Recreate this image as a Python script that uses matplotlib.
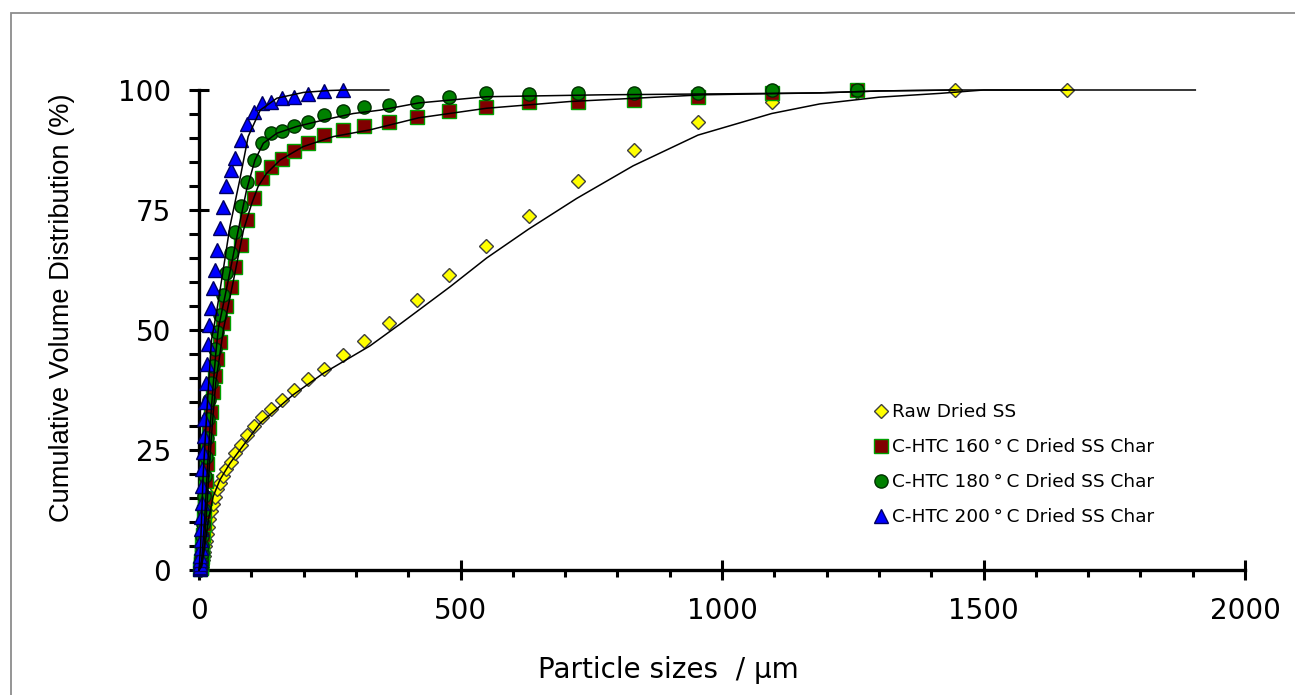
import matplotlib
matplotlib.use("Agg")
import matplotlib.pyplot as plt
from matplotlib.ticker import MultipleLocator

# ---------------------------------------------------------------- data
# measured points (particle size in um, cumulative volume in %)
raw_x = [3.80, 4.37, 5.01, 5.75, 6.61, 7.59, 8.71, 10.0, 11.5, 13.2, 15.1, 17.4,
         20.0, 22.9, 26.3, 30.2, 34.7, 39.8, 45.7, 52.5, 60.3, 69.2, 79.4, 91.2,
         104.7, 120.2, 138.0, 158.5, 182.0, 208.9, 239.9, 275.4, 316.2, 363.1,
         416.9, 478.6, 549.5, 631.0, 724.4, 831.8, 955.0, 1096.5, 1258.9,
         1445.4, 1659.6]
raw_y = [0.1, 0.3, 0.6, 1.0, 1.5, 2.1, 2.9, 3.8, 4.9, 6.1, 7.5, 9.0,
         10.6, 12.2, 13.8, 15.3, 16.8, 18.2, 19.6, 21.0, 22.6, 24.3, 26.0, 28.1,
         30.0, 31.8, 33.5, 35.4, 37.5, 39.7, 41.9, 44.8, 47.8, 51.4,
         56.3, 61.5, 67.6, 73.8, 81.0, 87.6, 93.3, 97.4, 99.6,
         100.0, 100.0]

c160_x = [2.51, 2.88, 3.31, 3.80, 4.37, 5.01, 5.75, 6.61, 7.59, 8.71, 10.0, 11.5,
          13.2, 15.1, 17.4, 20.0, 22.9, 26.3, 30.2, 34.7, 39.8, 45.7, 52.5, 60.3,
          69.2, 79.4, 91.2, 104.7, 120.2, 138.0, 158.5, 182.0, 208.9, 239.9,
          275.4, 316.2, 363.1, 416.9, 478.6, 549.5, 631.0, 724.4, 831.8, 955.0,
          1096.5, 1258.9]
c160_y = [0.2, 0.4, 0.7, 1.2, 1.9, 2.8, 4.0, 5.5, 7.2, 9.5, 12.0, 15.0,
          18.5, 22.0, 25.5, 29.5, 33.0, 37.0, 40.5, 44.0, 47.5, 51.4, 54.9, 59.0,
          63.2, 67.8, 72.9, 77.6, 81.6, 83.9, 85.6, 87.2, 89.0, 90.6,
          91.7, 92.4, 93.4, 94.4, 95.7, 96.5, 97.4, 97.6, 98.0, 98.5,
          99.3, 100.0]

c180_x = [2.51, 2.88, 3.31, 3.80, 4.37, 5.01, 5.75, 6.61, 7.59, 8.71, 10.0, 11.5,
          13.2, 15.1, 17.4, 20.0, 22.9, 26.3, 30.2, 34.7, 39.8, 45.7, 52.5, 60.3,
          69.2, 79.4, 91.2, 104.7, 120.2, 138.0, 158.5, 182.0, 208.9, 239.9,
          275.4, 316.2, 363.1, 416.9, 478.6, 549.5, 631.0, 724.4, 831.8, 955.0,
          1096.5, 1258.9]
c180_y = [0.2, 0.4, 0.8, 1.4, 2.3, 3.5, 5.0, 7.0, 9.5, 12.5, 15.5, 19.5,
          23.5, 27.5, 31.5, 35.5, 39.0, 42.5, 46.0, 49.5, 53.1, 57.3, 61.8, 66.0,
          70.5, 75.8, 80.9, 85.4, 89.0, 91.0, 91.5, 92.4, 93.4, 94.8,
          95.7, 96.5, 96.9, 97.6, 98.6, 99.3, 99.2, 99.3, 99.4, 99.4,
          99.9, 100.0]

c200_x = [1.26, 1.45, 1.66, 1.91, 2.19, 2.51, 2.88, 3.31, 3.80, 4.37, 5.01, 5.75,
          6.61, 7.59, 8.71, 10.0, 11.5, 13.2, 15.1, 17.4, 20.0, 22.9, 26.3, 30.2,
          34.7, 39.8, 45.7, 52.5, 60.3, 69.2, 79.4, 91.2, 104.7, 120.2, 138.0,
          158.5, 182.0, 208.9, 239.9, 275.4]
c200_y = [0.2, 0.4, 0.7, 1.2, 2.0, 3.0, 4.5, 6.3, 8.5, 11.0, 14.0, 17.5,
          21.0, 24.5, 28.0, 31.5, 35.0, 39.0, 43.0, 47.0, 51.0, 54.5, 58.7, 62.5,
          66.7, 71.2, 75.7, 79.9, 83.3, 85.8, 89.6, 93.0, 95.5, 97.2, 97.6,
          98.3, 98.6, 99.2, 99.7, 100.0]

# fitted model curves
raw_fit_x = [0, 5, 11, 18, 27, 40, 59, 85, 117, 180, 238, 327, 384, 480, 550,
             630, 722, 830, 954, 1095, 1187, 1300, 1417, 1500, 1905]
raw_fit_y = [0, 0.7, 4.9, 10.4, 15.3, 18.8, 22.2, 26.0, 30.6, 36.5, 41.0, 46.7,
             51.2, 59.0, 65.0, 71.0, 77.4, 84.2, 90.6, 95.1, 97.1, 98.5, 99.3,
             100, 100]
c160_fit_x = [0, 5, 10, 15, 20, 26, 32, 40, 47, 66, 85, 101, 113, 129, 155, 199,
              257, 327, 420, 550, 709, 964, 1187, 1300, 1445, 1659]
c160_fit_y = [0, 1, 5, 13, 22, 31, 39, 45, 50.3, 60.4, 70.8, 76.4, 79.9, 82.6,
              85.4, 88.2, 90.3, 91.7, 94.2, 96.2, 97.6, 99.0, 99.4, 99.8, 100, 100]
c180_fit_x = [0, 5, 10, 15, 20, 26, 32, 37, 56, 75, 91, 107, 123, 149, 187, 238,
              295, 346, 420, 550, 773, 1000, 1187, 1300, 1445]
c180_fit_y = [0, 2, 9, 19, 28, 37, 45, 50.3, 60.4, 70.8, 79.2, 85.4, 88.9, 91.0,
              92.4, 93.75, 95.1, 95.8, 97.3, 98.6, 99.0, 99.2, 99.4, 99.8, 100]
c200_fit_x = [0, 3, 8, 15, 24, 34, 47, 59, 78, 94, 117, 149, 200, 250, 280, 363]
c200_fit_y = [0, 5, 20, 33, 48, 54, 63, 71.5, 81.3, 90.3, 95.8, 98.3, 99.5, 99.9,
              100, 100]

labels = ["Raw Dried SS",
          "C-HTC 160\u2009\u00b0\u2009C Dried SS Char",
          "C-HTC 180\u2009\u00b0\u2009C Dried SS Char",
          "C-HTC 200\u2009\u00b0\u2009C Dried SS Char"]

# ---------------------------------------------------------------- figure
fig = plt.figure(figsize=(12.95, 6.95), dpi=100)
ax = fig.add_axes([199 / 1295, 125 / 695, 1046 / 1295, 480 / 695])

styles = [
    dict(marker="D", ms=7.5, mfc="#ffff00", mec="#404040", mew=1.0),
    dict(marker="s", ms=9.5, mfc="#800000", mec="#00a000", mew=1.0),
    dict(marker="o", ms=9.5, mfc="#008000", mec="#003000", mew=1.0),
    dict(marker="^", ms=9.5, mfc="#0000ff", mec="#000060", mew=1.0),
]
points = [(raw_x, raw_y), (c160_x, c160_y), (c180_x, c180_y), (c200_x, c200_y)]
fits = [(raw_fit_x, raw_fit_y), (c160_fit_x, c160_fit_y),
        (c180_fit_x, c180_fit_y), (c200_fit_x, c200_fit_y)]

handles = []
for (px, py), st, lab in zip(points, styles, labels):
    h, = ax.plot(px, py, linestyle="none", label=lab, clip_on=False,
                 zorder=3, **st)
    handles.append(h)
for fx, fy in fits:
    ax.plot(fx, fy, color="black", lw=1.1, zorder=4, clip_on=False)

ax.set_xlim(0, 2000)
ax.set_ylim(0, 100)
ax.xaxis.set_major_locator(MultipleLocator(500))
ax.xaxis.set_minor_locator(MultipleLocator(100))
ax.yaxis.set_major_locator(MultipleLocator(25))
ax.yaxis.set_minor_locator(MultipleLocator(5))

for s in ["top", "right"]:
    ax.spines[s].set_visible(False)
for s in ["left", "bottom"]:
    ax.spines[s].set_linewidth(2.4)

ax.tick_params(axis="x", which="major", direction="inout", length=14.5,
               width=2.2, pad=12, labelsize=20)
ax.tick_params(axis="x", which="minor", direction="out", length=5, width=2.2)
ax.tick_params(axis="y", which="major", direction="inout", length=14,
               width=2.2, pad=13, labelsize=20)
ax.tick_params(axis="y", which="minor", direction="out", length=7, width=2.2)

ax.set_xlabel("Particle sizes  / \u00b5m", fontsize=20)
ax.xaxis.set_label_coords(0.449, -0.179)
ax.set_ylabel("Cumulative Volume Distribution (%)", fontsize=19.6,
              family="Liberation Sans")
ax.yaxis.set_label_coords(-0.1185, 0.546)

ax.legend(handles=handles, loc="upper left", frameon=False,
          bbox_to_anchor=(875 / 1295, 1 - 403 / 695),
          bbox_transform=fig.transFigure, fontsize=13.3, handlelength=0.6,
          handletextpad=0.3, labelspacing=0.92, borderaxespad=0,
          borderpad=0)

# grey outer frame
fig.add_artist(plt.Rectangle((11 / 1295, -0.1), 1.2, (682 / 695) + 0.1,
                             transform=fig.transFigure, fill=False,
                             ec="#8c8c8c", lw=1.3))

fig.savefig("out.png", dpi=100)
